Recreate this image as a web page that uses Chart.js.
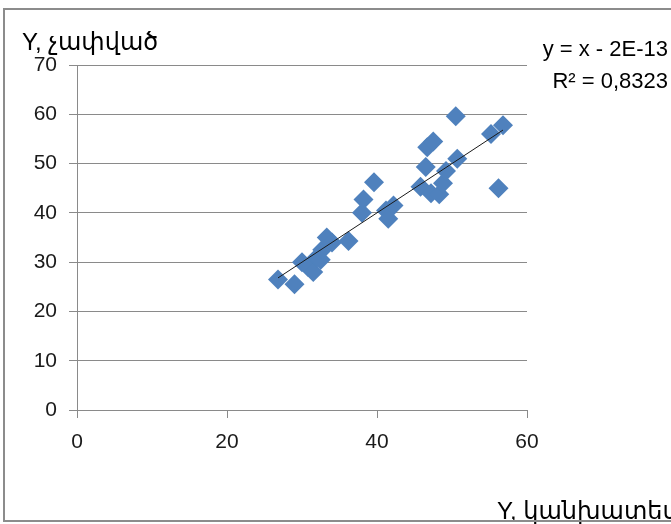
<!DOCTYPE html>
<html>
<head>
<meta charset="utf-8">
<script src="https://cdn.jsdelivr.net/npm/chart.js@4"></script>
<style>
html,body{margin:0;padding:0;background:#fff;}
#wrap{width:671px;height:524px;position:relative;}
</style>
</head>
<body>
<div id="wrap"><canvas id="c" width="671" height="524"></canvas></div>
<script>
// Data
const xPredicted = [26.8, 29.0, 30.0, 30.8, 31.5, 32.0, 32.5, 32.7, 33.3, 34.0, 36.2,
                    38.0, 38.2, 39.6, 41.2, 41.5, 42.2,
                    45.8, 46.5, 46.7, 47.5, 47.2, 48.3, 48.8, 49.2, 50.7, 50.5, 55.2, 56.8, 56.2];
const yMeasured  = [26.5, 25.5, 30.0, 29.0, 28.0, 31.0, 30.5, 32.5, 35.0, 34.0, 34.3,
                    40.0, 42.7, 46.2, 40.5, 38.8, 41.5,
                    45.3, 49.3, 53.3, 54.5, 44.0, 43.8, 46.0, 48.5, 51.0, 59.6, 56.0, 57.8, 45.0];
const xTicks = [0, 20, 40, 60];
const yTicks = [0, 10, 20, 30, 40, 50, 60, 70];
const trendSlope = 1;
const trendIntercept = -2e-13;
const equationLabel = "y = x - 2E-13";
const r2Label = "R² = 0,8323";
const yTitle = "Y, չափված";
const xTitle = "Y, կանխատեսված";

const points = xPredicted.map((x, i) => ({x: x, y: yMeasured[i]}));
const xMin = Math.min(...xPredicted), xMax = Math.max(...xPredicted);
const trend = [xMin, xMax].map(x => ({x: x, y: trendSlope * x + trendIntercept}));

const GRID = '#8a8a8a';
const FONT = "'Liberation Sans', 'DejaVu Sans', sans-serif";

const decor = {
  id: 'decor',
  beforeDraw(chart) {
    const ctx = chart.ctx;
    ctx.save();
    ctx.fillStyle = '#fff';
    ctx.fillRect(0, 0, chart.width, chart.height);
    ctx.restore();
  },
  afterDraw(chart) {
    const ctx = chart.ctx;
    ctx.save();
    ctx.fillStyle = '#000';
    ctx.textBaseline = 'alphabetic';
    ctx.font = "24px " + FONT;
    ctx.textAlign = 'left';
    ctx.fillText(yTitle, 22, 50);
    ctx.fillText(xTitle, 497, 519);
    ctx.font = "22px " + FONT;
    ctx.textAlign = 'right';
    ctx.fillText(equationLabel, 668, 56);
    ctx.fillText(r2Label, 668, 88);
    // outer frame
    ctx.strokeStyle = '#8c8c8c';
    ctx.lineWidth = 2;
    ctx.strokeRect(4, 9, 700, 512);
    ctx.restore();
  }
};

new Chart(document.getElementById('c'), {
  type: 'scatter',
  data: {
    datasets: [
      {
        label: 'trend',
        type: 'line',
        data: trend,
        borderColor: '#1a1a1a',
        borderWidth: 1,
        pointRadius: 0,
        fill: false,
        order: 0
      },
      {
        label: 'points',
        data: points,
        pointStyle: 'rectRot',
        pointRadius: 10,
        pointBackgroundColor: '#4F81BD',
        pointBorderColor: '#4F81BD',
        pointBorderWidth: 0,
        order: 1
      }
    ]
  },
  options: {
    responsive: false,
    animation: false,
    devicePixelRatio: 1,
    layout: {padding: {left: 0, right: 144, top: 65, bottom: 0}},
    plugins: {legend: {display: false}, tooltip: {enabled: false}},
    scales: {
      x: {
        type: 'linear',
        min: 0, max: 60,
        afterBuildTicks(scale) { scale.ticks = xTicks.map(v => ({value: v})); },
        afterFit(scale) { scale.height = 114; },
        grid: {drawOnChartArea: false, drawTicks: true, tickLength: 8, color: GRID, lineWidth: 1},
        border: {display: true, color: GRID, width: 1},
        ticks: {color: '#1a1a1a', font: {family: FONT, size: 21}, padding: 12, maxRotation: 0}
      },
      y: {
        type: 'linear',
        min: 0, max: 70,
        afterBuildTicks(scale) { scale.ticks = yTicks.map(v => ({value: v})); },
        afterFit(scale) { scale.width = 77; },
        grid: {drawOnChartArea: true, drawTicks: true, tickLength: 8, color: GRID, lineWidth: 1},
        border: {display: true, color: GRID, width: 1},
        ticks: {color: '#1a1a1a', font: {family: FONT, size: 21}, padding: 12}
      }
    }
  },
  plugins: [decor]
});
</script>
</body>
</html>
